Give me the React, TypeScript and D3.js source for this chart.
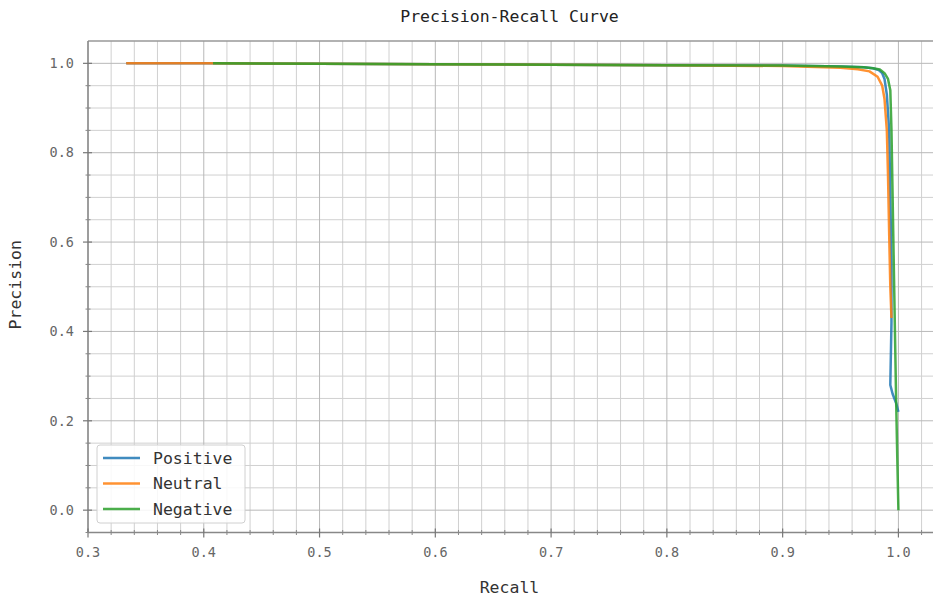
import React from "react";
import * as d3 from "d3";

const seriesNames = ["Positive", "Neutral", "Negative"];
const seriesColors = ["#1f77b4", "#ff7f0e", "#2ca02c"];

const positiveRecall = [0.333, 0.4, 0.5, 0.6, 0.7, 0.8, 0.9, 0.95, 0.97, 0.978, 0.983, 0.986, 0.988, 0.99, 0.992, 0.993, 0.994, 0.994, 0.993, 0.995, 0.998, 1.0];
const positivePrecision = [1.0, 1.0, 0.999, 0.998, 0.997, 0.996, 0.995, 0.993, 0.991, 0.989, 0.985, 0.978, 0.965, 0.93, 0.85, 0.7, 0.55, 0.42, 0.28, 0.26, 0.24, 0.22];

const neutralRecall = [0.333, 0.4, 0.5, 0.6, 0.7, 0.8, 0.9, 0.95, 0.965, 0.975, 0.982, 0.986, 0.988, 0.99, 0.991, 0.992, 0.993, 0.994];
const neutralPrecision = [1.0, 1.0, 0.999, 0.998, 0.997, 0.996, 0.994, 0.99, 0.987, 0.982, 0.97, 0.95, 0.92, 0.85, 0.75, 0.62, 0.5, 0.43];

const negativeRecall = [0.408, 0.5, 0.6, 0.7, 0.8, 0.9, 0.95, 0.97, 0.978, 0.984, 0.988, 0.991, 0.993, 0.994, 0.995, 0.996, 0.997, 0.998, 0.999, 1.0];
const negativePrecision = [1.0, 0.999, 0.998, 0.997, 0.996, 0.995, 0.993, 0.991, 0.989, 0.986, 0.978, 0.965, 0.94, 0.85, 0.7, 0.55, 0.4, 0.25, 0.12, 0.0];

const xTicks = [0.3, 0.4, 0.5, 0.6, 0.7, 0.8, 0.9, 1.0];
const yTicks = [0.0, 0.2, 0.4, 0.6, 0.8, 1.0];

const W = 933;
const H = 598;
const left = 88;
const right = 935;
const top = 41;
const bottom = 532.5;

export default function App() {
  const x = d3.scaleLinear().domain([0.3, 1.0316]).range([left, right]);
  const y = d3.scaleLinear().domain([-0.05, 1.05]).range([bottom, top]);

  const xMinor = d3.range(0.3, 1.0316, 0.02).filter((v) => !xTicks.some((t) => Math.abs(t - v) < 1e-6));
  const yMinor = d3.range(-0.05, 1.05, 0.05).filter((v) => !yTicks.some((t) => Math.abs(t - v) < 1e-6));

  const data = [
    positiveRecall.map((r, i) => [r, positivePrecision[i]]),
    neutralRecall.map((r, i) => [r, neutralPrecision[i]]),
    negativeRecall.map((r, i) => [r, negativePrecision[i]]),
  ];
  const line = d3
    .line<number[]>()
    .x((d) => x(d[0]))
    .y((d) => y(d[1]));

  const font = "'DejaVu Sans Mono', monospace";
  const fmt = d3.format(".1f");

  return (
    <div style={{ position: "fixed", left: 0, top: 0 }}>
      <svg width={W} height={H} style={{ display: "block", background: "#fff" }}>
        <defs>
          <clipPath id="plotclip">
            <rect x={left} y={top} width={right - left} height={bottom - top} />
          </clipPath>
        </defs>
        <rect x={left} y={top} width={right - left} height={bottom - top} fill="#fff" />
        {xMinor.map((v, i) => (
          <line key={"xm" + i} x1={x(v)} x2={x(v)} y1={top} y2={bottom} stroke="#d0d0d0" strokeWidth={1} />
        ))}
        {yMinor.map((v, i) => (
          <line key={"ym" + i} x1={left} x2={right} y1={y(v)} y2={y(v)} stroke="#d0d0d0" strokeWidth={1} />
        ))}
        {xTicks.map((v, i) => (
          <line key={"xg" + i} x1={x(v)} x2={x(v)} y1={top} y2={bottom} stroke="#b8b8b8" strokeWidth={1} />
        ))}
        {yTicks.map((v, i) => (
          <line key={"yg" + i} x1={left} x2={right} y1={y(v)} y2={y(v)} stroke="#b8b8b8" strokeWidth={1} />
        ))}
        <g clipPath="url(#plotclip)">
          {data.map((d, i) => (
            <path key={i} d={line(d) || ""} fill="none" stroke={seriesColors[i]} strokeWidth={2.5} strokeOpacity={0.85} strokeLinejoin="round" />
          ))}
        </g>
        <line x1={left} x2={right} y1={top} y2={top} stroke="#999" strokeWidth={1.5} />
        <line x1={left} x2={left} y1={top} y2={bottom} stroke="#888" strokeWidth={1.5} />
        <line x1={left} x2={right} y1={bottom} y2={bottom} stroke="#888" strokeWidth={1.5} />
        {xTicks.map((v, i) => (
          <g key={"xt" + i}>
            <line x1={x(v)} x2={x(v)} y1={bottom - 4} y2={bottom + 5} stroke="#777" strokeWidth={1.2} />
            <text x={x(v)} y={557} textAnchor="middle" fontFamily={font} fontSize={13.5} fill="#666">
              {fmt(v)}
            </text>
          </g>
        ))}
        {xMinor.map((v, i) => (
          <line key={"xmt" + i} x1={x(v)} x2={x(v)} y1={bottom - 2.5} y2={bottom + 2.5} stroke="#888" strokeWidth={1} />
        ))}
        {yTicks.map((v, i) => (
          <g key={"yt" + i}>
            <line x1={left - 5} x2={left + 4} y1={y(v)} y2={y(v)} stroke="#777" strokeWidth={1.2} />
            <text x={74} y={y(v)} dy="0.35em" textAnchor="end" fontFamily={font} fontSize={13.5} fill="#666">
              {fmt(v)}
            </text>
          </g>
        ))}
        {yMinor.map((v, i) => (
          <line key={"ymt" + i} x1={left - 2.5} x2={left + 2.5} y1={y(v)} y2={y(v)} stroke="#888" strokeWidth={1} />
        ))}
        <text x={(left + right) / 2 - 2} y={22} textAnchor="middle" fontFamily={font} fontSize={16.5} fill="#222">
          Precision-Recall Curve
        </text>
        <text x={(left + right) / 2 - 2} y={593} textAnchor="middle" fontFamily={font} fontSize={16.5} fill="#333">
          Recall
        </text>
        <text
          transform={`translate(21, ${(top + bottom) / 2 - 2}) rotate(-90)`}
          textAnchor="middle"
          fontFamily={font}
          fontSize={16.5}
          fill="#333"
        >
          Precision
        </text>
        <g>
          <rect x={97} y={445} width={148} height={78} rx={3} fill="#fff" fillOpacity={0.85} stroke="#d0d0d0" strokeWidth={1} />
          {seriesNames.map((n, i) => (
            <g key={n}>
              <line x1={103} x2={140} y1={458 + i * 25.5} y2={458 + i * 25.5} stroke={seriesColors[i]} strokeWidth={2.5} strokeOpacity={0.85} />
              <text x={153} y={458 + i * 25.5} dy="0.35em" fontFamily={font} fontSize={16.5} fill="#333">
                {n}
              </text>
            </g>
          ))}
        </g>
      </svg>
    </div>
  );
}
